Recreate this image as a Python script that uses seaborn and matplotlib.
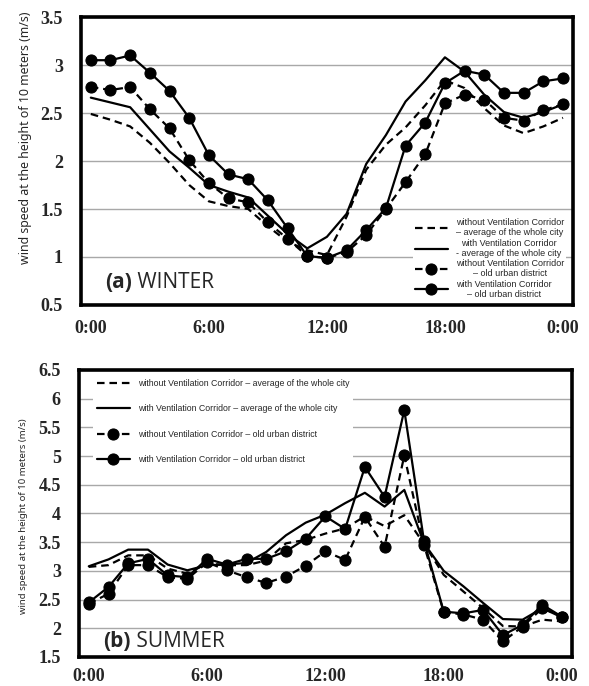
import matplotlib
matplotlib.use("Agg")
import matplotlib.pyplot as plt
import seaborn as sns
import pandas as pd

hours = list(range(25))
xtick_pos = [0, 6, 12, 18, 24]
xtick_labels = ["0:00", "6:00", "12:00", "18:00", "0:00"]

# Winter
w_without_avg = [2.49, 2.43, 2.36, 2.19, 1.98, 1.75, 1.58, 1.53, 1.50, 1.32, 1.16, 1.07, 1.02,
                 1.42, 1.91, 2.17, 2.35, 2.58, 2.84, 2.76, 2.55, 2.37, 2.29, 2.36, 2.45]
w_with_avg = [2.66, 2.61, 2.56, 2.33, 2.10, 1.93, 1.75, 1.68, 1.62, 1.43, 1.24, 1.09, 1.21,
              1.45, 1.97, 2.27, 2.62, 2.84, 3.08, 2.93, 2.69, 2.51, 2.45, 2.51, 2.59]
w_without_old = [2.77, 2.74, 2.77, 2.54, 2.34, 2.01, 1.77, 1.61, 1.57, 1.36, 1.19, 1.01, 0.99,
                 1.05, 1.23, 1.50, 1.78, 2.07, 2.60, 2.69, 2.64, 2.45, 2.42, 2.53, 2.59]
w_with_old = [3.05, 3.05, 3.10, 2.92, 2.73, 2.45, 2.06, 1.86, 1.81, 1.59, 1.30, 1.01, 0.99,
              1.07, 1.28, 1.51, 2.16, 2.40, 2.81, 2.94, 2.90, 2.71, 2.71, 2.83, 2.86]

# Summer
s_without_avg = [3.07, 3.10, 3.27, 3.27, 3.04, 2.95, 3.13, 3.10, 3.10, 3.18, 3.48, 3.54, 3.65,
                 3.74, 3.95, 3.78, 3.97, 3.47, 2.93, 2.64, 2.35, 2.04, 2.03, 2.15, 2.12]
s_with_avg = [3.08, 3.20, 3.37, 3.37, 3.11, 3.01, 3.10, 3.11, 3.14, 3.33, 3.62, 3.84, 3.98,
              4.18, 4.36, 4.12, 4.41, 3.48, 3.00, 2.73, 2.44, 2.16, 2.15, 2.35, 2.19]
s_without_old = [2.43, 2.60, 3.10, 3.10, 2.89, 2.86, 3.15, 3.01, 2.89, 2.79, 2.90, 3.09, 3.34,
                 3.19, 3.94, 3.42, 5.01, 3.45, 2.28, 2.24, 2.15, 1.77, 2.03, 2.35, 2.20]
s_with_old = [2.45, 2.72, 3.13, 3.21, 2.92, 2.89, 3.21, 3.11, 3.21, 3.21, 3.34, 3.56, 3.95,
              3.73, 4.81, 4.29, 5.80, 3.52, 2.29, 2.26, 2.32, 1.88, 2.06, 2.41, 2.20]

winter_labels = ["without Ventilation Corridor\n\u2013 average of the whole city",
                 "with Ventilation Corridor\n- average of the whole city",
                 "without Ventilation Corridor\n\u2013 old urban district",
                 "with Ventilation Corridor\n\u2013 old urban district"]
summer_labels = ["without Ventilation Corridor \u2013 average of the whole city",
                 "with Ventilation Corridor \u2013 average of the whole city",
                 "without Ventilation Corridor \u2013 old urban district",
                 "with Ventilation Corridor \u2013 old urban district"]

sns.set_style("white")
plt.rcParams["font.family"] = ["DejaVu Sans"]

DASH = (0, (3.4, 2.2))
styles = [(DASH, None), ("-", None), (DASH, "o"), ("-", "o")]

fig = plt.figure(figsize=(5.89, 6.86), dpi=100)
ax1 = fig.add_axes([0.1375, 0.5554, 0.835, 0.4198])
ax2 = fig.add_axes([0.134, 0.0423, 0.837, 0.4184])

tick_font = dict(family=["Liberation Serif", "DejaVu Serif"], weight="bold", size=13)
leg_font = ["Liberation Sans Narrow", "Liberation Sans", "DejaVu Sans"]


def draw(ax, series, labels, ylim, yticks, ylabels, xpad):
    for vals, lab, (ls, mk) in zip(series, labels, styles):
        df = pd.DataFrame({"hour": hours, "speed": vals})
        sns.lineplot(data=df, x="hour", y="speed", ax=ax, color="black",
                     linestyle=ls, marker=mk, markersize=8 if mk else 0,
                     markeredgecolor="black", markerfacecolor="black",
                     linewidth=1.6, label=lab)
    ax.set_xlim(-0.5, 24.5)
    ax.set_ylim(*ylim)
    ax.set_xticks(xtick_pos)
    ax.set_xticklabels(xtick_labels, fontdict=tick_font)
    ax.set_yticks(yticks)
    ax.set_yticklabels(ylabels, fontdict=tick_font)
    ax.tick_params(axis="both", length=0)
    ax.tick_params(axis="x", pad=xpad)
    ax.tick_params(axis="y", pad=13)
    ax.yaxis.grid(True, color="#a8a8a8", linewidth=1.0)
    ax.xaxis.grid(False)
    ax.set_axisbelow(True)
    for sp in ax.spines.values():
        sp.set_visible(True)
        sp.set_color("black")
        sp.set_linewidth(2.6)
    ax.set_xlabel("")
    ax.set_ylabel("")


draw(ax1, [w_without_avg, w_with_avg, w_without_old, w_with_old], winter_labels,
     (0.5, 3.5), [0.5, 1, 1.5, 2, 2.5, 3, 3.5],
     ["0.5", "1", "1.5", "2", "2.5", "3", "3.5"], 11)
draw(ax2, [s_without_avg, s_with_avg, s_without_old, s_with_old], summer_labels,
     (1.5, 6.5), [1.5, 2, 2.5, 3, 3.5, 4, 4.5, 5, 5.5, 6, 6.5],
     ["1.5", "2", "2.5", "3", "3.5", "4", "4.5", "5", "5.5", "6", "6.5"], 8)

leg1 = ax1.legend(loc="lower right", bbox_to_anchor=(0.995, 0.0), frameon=True,
                  facecolor="white", edgecolor="none", framealpha=1,
                  prop=dict(family=leg_font, size=6.5), labelspacing=0.15,
                  handlelength=3.6, handletextpad=0.9, borderpad=0.2,
                  fancybox=False)
for t in leg1.get_texts():
    t.set_multialignment("center")
    t.set_linespacing(1.15)
leg2 = ax2.legend(loc="upper left", bbox_to_anchor=(0.02, 0.995), frameon=True,
                  facecolor="white", edgecolor="none", framealpha=1,
                  prop=dict(family=leg_font, size=6.3), labelspacing=1.85,
                  handlelength=3.8, handletextpad=0.9, borderpad=0.4,
                  fancybox=False)

panel_font = ["Open Sans", "Noto Sans", "DejaVu Sans"]
t1 = ax1.text(0.05, 0.06, "(a)", transform=ax1.transAxes, fontsize=15,
              fontweight="bold", family=panel_font, va="baseline")
ax1.annotate(" WINTER", xy=(1, 0), xycoords=t1, va="bottom", fontsize=15,
             family=panel_font)
t2 = ax2.text(0.05, 0.035, "(b)", transform=ax2.transAxes, fontsize=15,
              fontweight="bold", family=panel_font, va="baseline")
ax2.annotate(" SUMMER", xy=(1, 0), xycoords=t2, va="bottom", fontsize=15,
             family=panel_font)

ylab = "wind speed at the height of 10 meters (m/s)"
fig.text(26 / 589, 1 - 138 / 686, ylab, rotation=90, ha="center", va="center",
         fontsize=8.9, family=["Noto Sans", "DejaVu Sans"])
fig.text(24 / 589, 1 - 516 / 686, ylab, rotation=90, ha="center", va="center",
         fontsize=6.9, family=["Noto Sans", "DejaVu Sans"])

fig.savefig("out.png", dpi=100)
